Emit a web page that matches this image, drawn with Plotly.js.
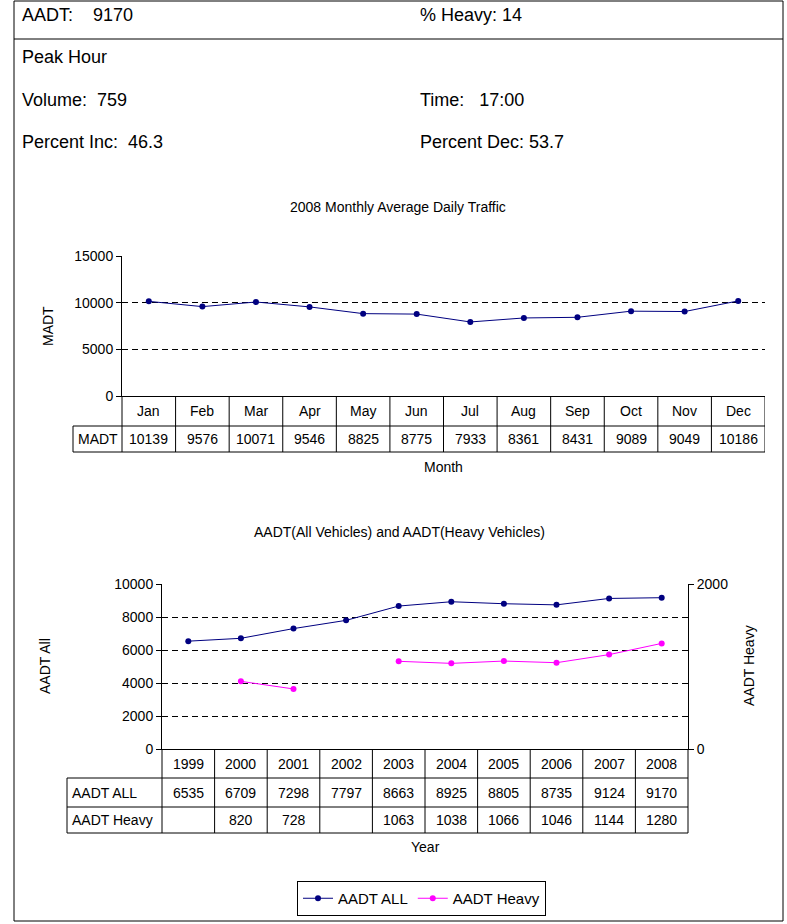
<!DOCTYPE html>
<html>
<head>
<meta charset="utf-8">
<script src="https://cdn.plot.ly/plotly-3.0.1.min.js"></script>
<style>html,body{margin:0;padding:0;background:#fff;}#chart{width:787px;height:924px;}</style>
</head>
<body>
<div id="chart"></div>
<script>
// ---- Data ----
const months = ['Jan','Feb','Mar','Apr','May','Jun','Jul','Aug','Sep','Oct','Nov','Dec'];
const madt = [10139, 9576, 10071, 9546, 8825, 8775, 7933, 8361, 8431, 9089, 9049, 10186];
const years = ['1999','2000','2001','2002','2003','2004','2005','2006','2007','2008'];
const aadtAll = [6535, 6709, 7298, 7797, 8663, 8925, 8805, 8735, 9124, 9170];
const aadtHeavy = [null, 820, 728, null, 1063, 1038, 1066, 1046, 1144, 1280];
const headerLeft = ['AADT:\u00a0\u00a0\u00a0\u00a09170', 'Peak Hour', 'Volume:\u00a0\u00a0759', 'Percent Inc:\u00a0\u00a046.3'];
const headerRight = ['% Heavy: 14', '', 'Time:\u00a0\u00a0\u00a017:00', 'Percent Dec: 53.7'];

// ---- Layout helpers ----
const W = 787, H = 924;
const px = x => x / W;
const py = y => 1 - y / H;
const FONT = 'Arial, "Liberation Sans", sans-serif';
const NAVY = '#000080', MAG = '#FF00FF', LINEC = '#000';

const shapes = [];
const annotations = [];
function hline(x0, x1, y, xref) {
  shapes.push({type:'line', xref: xref || 'paper', yref:'paper', x0: x0, x1: x1, y0: py(y), y1: py(y), line:{color:LINEC, width:1}});
}
function vline(x, y0, y1, xref) {
  shapes.push({type:'line', xref: xref || 'paper', yref:'paper', x0: x, x1: x, y0: py(y0), y1: py(y1), line:{color:LINEC, width:1}});
}
function text(t, x, y, opts) {
  opts = opts || {};
  annotations.push(Object.assign({text: t, x: x, y: py(y), xref: 'paper', yref: 'paper', showarrow: false,
    xanchor: 'center', yanchor: 'middle', font: {family: FONT, size: 14, color: '#000'}}, opts));
}

// Outer frame and header
shapes.push({type:'rect', xref:'paper', yref:'paper', x0: px(14), x1: px(783), y0: py(921), y1: py(1), line:{color:LINEC, width:1}});
hline(px(14), px(783), 39);
const headerY = [15, 57.5, 100, 141.5];
headerLeft.forEach((t, i) => { if (t) text(t, px(20), headerY[i], {xanchor:'left', font:{family:FONT, size:18, color:'#000'}}); });
headerRight.forEach((t, i) => { if (t) text(t, px(418), headerY[i], {xanchor:'left', font:{family:FONT, size:18, color:'#000'}}); });

// Chart 1
text('2008 Monthly Average Daily Traffic', px(398), 207, {font:{family:FONT, size:14, color:'#000'}});
text('MADT', px(48), 326, {textangle:-90});
text('Month', px(443.5), 466.5);
// table 1
hline(px(73), px(765), 426);
hline(px(73), px(765), 452);
vline(px(73), 426, 452);
vline(px(122), 396, 452);
for (let i = 0; i < months.length; i++) vline(i + 0.5, 396, 452, 'x');
text('MADT', px(97.5), 439);
months.forEach((m, i) => {
  text(m, i, 411, {xref:'x'});
  text(String(madt[i]), i, 439, {xref:'x'});
});

// Chart 2
text('AADT(All Vehicles) and AADT(Heavy Vehicles)', px(399), 532, {font:{family:FONT, size:14, color:'#000'}});
text('AADT All', px(45), 666, {textangle:-90});
text('AADT Heavy', px(749), 666, {textangle:-90});
text('Year', px(425), 847);
hline(px(67), px(688), 778);
hline(px(67), px(688), 807);
hline(px(67), px(688), 833);
vline(px(67), 778, 833);
vline(px(162), 749, 833);
vline(px(688), 749, 833);
for (let i = 0; i < years.length - 1; i++) vline(i + 0.5, 749, 833, 'x2');
text('AADT ALL', px(70), 792.5, {xanchor:'left'});
text('AADT Heavy', px(70), 820, {xanchor:'left'});
years.forEach((yr, i) => {
  text(yr, i, 763.5, {xref:'x2'});
  text(String(aadtAll[i]), i, 792.5, {xref:'x2'});
  if (aadtHeavy[i] !== null) text(String(aadtHeavy[i]), i, 820, {xref:'x2'});
});

const traces = [
  {x: months, y: madt, xaxis:'x', yaxis:'y', type:'scatter', mode:'lines+markers',
   line:{color:NAVY, width:1}, marker:{color:NAVY, size:6}, showlegend:false, hoverinfo:'skip'},
  {x: years, y: aadtAll, xaxis:'x2', yaxis:'y2', type:'scatter', mode:'lines+markers', name:'AADT ALL',
   line:{color:NAVY, width:1}, marker:{color:NAVY, size:6}},
  {x: years, y: aadtHeavy, xaxis:'x2', yaxis:'y3', type:'scatter', mode:'lines+markers', name:'AADT Heavy',
   connectgaps:false, line:{color:MAG, width:1}, marker:{color:MAG, size:6}}
];

const yCommon = {showline:true, linecolor:LINEC, linewidth:1, ticks:'outside', ticklen:5, tickcolor:LINEC,
  showgrid:true, gridcolor:'#000', gridwidth:1, griddash:'6px,4px', zeroline:false, tickformat:'d',
  tickfont:{family:FONT, size:14, color:'#000'}, fixedrange:true};
const xCommon = {type:'category', showline:true, linecolor:LINEC, linewidth:1, ticks:'', showticklabels:false,
  showgrid:false, zeroline:false, fixedrange:true};

const layout = {
  width: W, height: H,
  margin: {l:0, r:0, t:0, b:0},
  paper_bgcolor:'#fff', plot_bgcolor:'#fff',
  font: {family: FONT, size: 14, color:'#000'},
  showlegend: true,
  legend: {orientation:'h', x: px(297), xanchor:'left', y: py(881), yanchor:'top',
    bordercolor:'#000', borderwidth:1, font:{family:FONT, size:15, color:'#000'}, bgcolor:'#fff'},
  xaxis: Object.assign({}, xCommon, {domain:[px(122), px(765)], range:[-0.5, 11.5], anchor:'y'}),
  yaxis: Object.assign({}, yCommon, {domain:[py(396), py(256)], range:[0, 15000], dtick:5000, anchor:'x'}),
  xaxis2: Object.assign({}, xCommon, {domain:[px(162), px(688)], range:[-0.5, 9.5], anchor:'y2'}),
  yaxis2: Object.assign({}, yCommon, {domain:[py(749), py(584)], range:[0, 10000], dtick:2000, anchor:'x2'}),
  yaxis3: Object.assign({}, yCommon, {overlaying:'y2', side:'right', anchor:'x2', range:[0, 2000],
    tickvals:[0, 2000], showgrid:false}),
  shapes: shapes,
  annotations: annotations
};

Plotly.newPlot('chart', traces, layout, {displayModeBar:false, staticPlot:true});
</script>
</body>
</html>
